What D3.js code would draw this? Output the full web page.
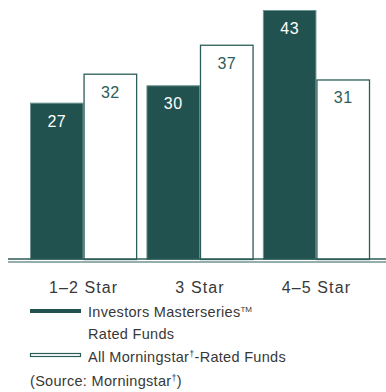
<!DOCTYPE html>
<html>
<head>
<meta charset="utf-8">
<script src="https://cdn.jsdelivr.net/npm/d3@7"></script>
<style>
  body { margin: 0; background: #fff; }
  text { font-family: "Liberation Sans", Arial, sans-serif; }
</style>
</head>
<body>
<svg width="386" height="392"></svg>
<script>
// data
var categories = ["1\u20132 Star", "3 Star", "4\u20135 Star"];
var seriesNames = ["Investors Masterseries", "All Morningstar-Rated Funds"];
var masterseries = [27, 30, 43];
var morningstar = [32, 37, 31];

var dark = "#22524f", teal = "#2c5d59", textCol = "#383838";

var svg = d3.select("svg");

var x = d3.scaleBand().domain(categories).range([30, 370]).paddingInner(0.08).paddingOuter(0);
var x1 = d3.scaleBand().domain([0, 1]).range([0, x.bandwidth()]);
var y = d3.scaleLinear().domain([0, 43]).range([259, 10]);

var rows = categories.map(function (c, i) {
    return {cat: c, vals: [masterseries[i], morningstar[i]]};
});

var g = svg.selectAll(".grp")
    .data(rows)
    .enter().append("g")
    .attr("class", "grp")
    .attr("transform", function (d) { return "translate(" + x(d.cat) + ",0)"; });

g.selectAll("rect")
    .data(function (d) { return d.vals.map(function (v, k) { return {k: k, v: v}; }); })
    .enter().append("rect")
    .attr("x", function (d) { return x1(d.k) + 0.5; })
    .attr("y", function (d) { return y(d.v) + 0.5; })
    .attr("width", x1.bandwidth() - 1)
    .attr("height", function (d) { return y(0) - y(d.v); })
    .attr("fill", function (d) { return d.k == 0 ? dark : "#fff"; })
    .attr("stroke", function (d) { return d.k == 0 ? "#6d9490" : teal; })
    .attr("stroke-width", function (d) { return d.k == 0 ? 1 : 1.3; });

g.selectAll(".val")
    .data(function (d) { return d.vals.map(function (v, k) { return {k: k, v: v}; }); })
    .enter().append("text")
    .attr("class", "val")
    .attr("x", function (d) { return x1(d.k) + x1.bandwidth() / 2; })
    .attr("y", function (d) { return y(d.v) + 24; })
    .attr("text-anchor", "middle")
    .attr("font-size", 16)
    .attr("letter-spacing", 0.5)
    .attr("fill", function (d) { return d.k == 0 ? "#fff" : teal; })
    .text(function (d) { return d.v; });

// double baseline
svg.append("line").attr("x1", 8).attr("x2", 386).attr("y1", y(0)).attr("y2", y(0))
    .attr("stroke", teal).attr("stroke-width", 1.6);
svg.append("line").attr("x1", 8).attr("x2", 386).attr("y1", y(0) + 3).attr("y2", y(0) + 3)
    .attr("stroke", teal).attr("stroke-width", 1.2);

// category labels
svg.selectAll(".cat")
    .data(categories)
    .enter().append("text")
    .attr("class", "cat")
    .attr("x", function (d) { return x(d) + x.bandwidth() / 2; })
    .attr("y", 293)
    .attr("text-anchor", "middle")
    .attr("font-size", 16)
    .attr("letter-spacing", 1.1)
    .attr("fill", textCol)
    .text(function (d) { return d; });

// legend
var leg = svg.append("g").attr("font-size", 14.5).attr("letter-spacing", 0.3).attr("fill", textCol);
leg.append("rect").attr("x", 30).attr("y", 309).attr("width", 51).attr("height", 4).attr("fill", dark);
var t1 = leg.append("text").attr("x", 88).attr("y", 317);
t1.append("tspan").text("Investors Masterseries");
t1.append("tspan").attr("font-size", 8).attr("dy", -5).attr("letter-spacing", 0).text("TM");
leg.append("text").attr("x", 88).attr("y", 338.5).text("Rated Funds");

leg.append("rect").attr("x", 30.5).attr("y", 353.5).attr("width", 50).attr("height", 3)
    .attr("fill", "#fff").attr("stroke", teal).attr("stroke-width", 1.2);
var t2 = leg.append("text").attr("x", 88).attr("y", 361.5);
t2.append("tspan").text("All Morningstar");
t2.append("tspan").attr("font-size", 9).attr("dy", -5).text("\u2020");
t2.append("tspan").attr("dy", 5).text("-Rated Funds");

var t3 = leg.append("text").attr("x", 30).attr("y", 386);
t3.append("tspan").text("(Source: Morningstar");
t3.append("tspan").attr("font-size", 9).attr("dy", -5).text("\u2020");
t3.append("tspan").attr("dy", 5).text(")");
</script>
</body>
</html>
